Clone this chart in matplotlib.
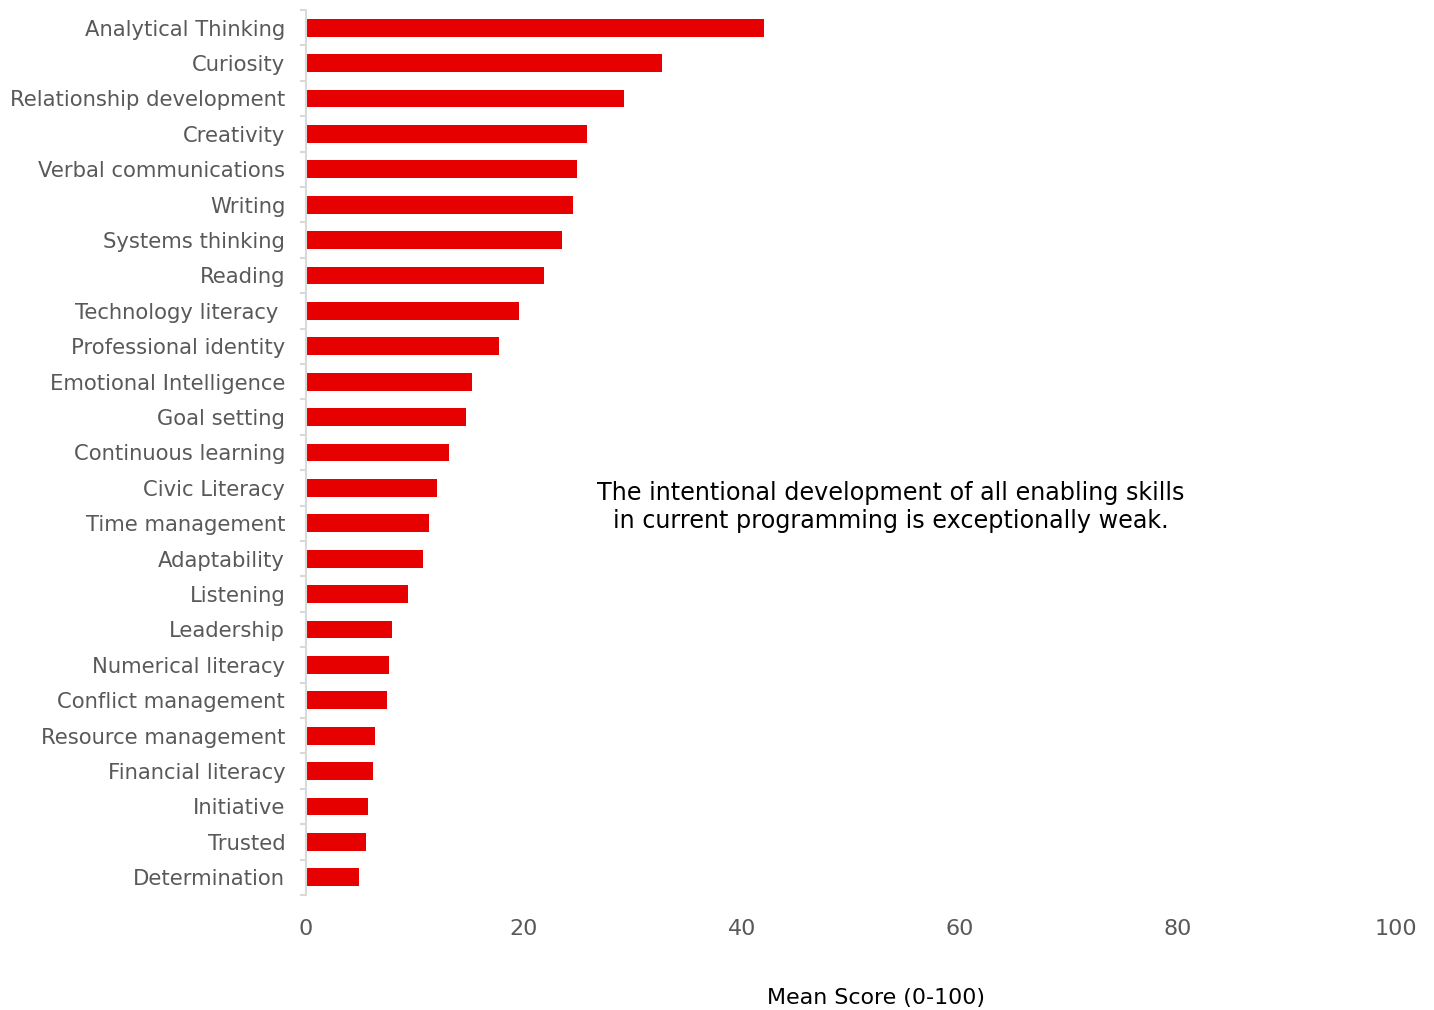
import numpy as np
import matplotlib.pyplot as plt
from matplotlib.ticker import FixedLocator

skills = [
    "Analytical Thinking", "Curiosity", "Relationship development", "Creativity",
    "Verbal communications", "Writing", "Systems thinking", "Reading",
    "Technology literacy ", "Professional identity", "Emotional Intelligence",
    "Goal setting", "Continuous learning", "Civic Literacy", "Time management",
    "Adaptability", "Listening", "Leadership", "Numerical literacy",
    "Conflict management", "Resource management", "Financial literacy",
    "Initiative", "Trusted", "Determination",
]
mean_scores = [
    42.0, 32.7, 29.2, 25.8, 24.9, 24.5, 23.5, 21.8, 19.5, 17.7, 15.2, 14.7, 13.1,
    12.0, 11.3, 10.7, 9.4, 7.9, 7.6, 7.45, 6.3, 6.1, 5.7, 5.5, 4.9,
]
x_ticks = [0, 20, 40, 60, 80, 100]

fig = plt.figure(figsize=(14.34, 10.10), dpi=100)
ax = fig.add_axes([0.2134, 0.1139, 0.7601, 0.8762])

y = np.arange(len(skills))
ax.barh(y, mean_scores, height=0.5, color="#e60000", left=0)
ax.set_ylim(len(skills) - 0.5, -0.5)
ax.set_xlim(0, 100)

ax.set_yticks(y)
ax.set_yticklabels(skills, fontsize=15.2, color="#595959")
ax.tick_params(axis="y", which="major", length=0, pad=15)
ax.yaxis.set_minor_locator(FixedLocator(np.arange(-0.5, len(skills), 1.0)))
ax.tick_params(axis="y", which="minor", length=4.5, width=1.5, color="#d9d9d9")

ax.set_xticks(x_ticks)
ax.set_xticklabels([str(t) for t in x_ticks], fontsize=16, color="#595959")
ax.tick_params(axis="x", length=0, pad=17)

for side in ["top", "right", "bottom"]:
    ax.spines[side].set_visible(False)
ax.spines["left"].set_color("#d9d9d9")
ax.spines["left"].set_linewidth(1.5)

fig.text(0.621, 0.498,
         "The intentional development of all enabling skills\nin current programming is exceptionally weak.",
         ha="center", va="center", fontsize=17.2, color="black", linespacing=1.25)

fig.text(0.611, 0.012, "Mean Score (0-100)", ha="center", va="center",
         fontsize=15.9, color="black")

plt.savefig("out.png", dpi=100)
